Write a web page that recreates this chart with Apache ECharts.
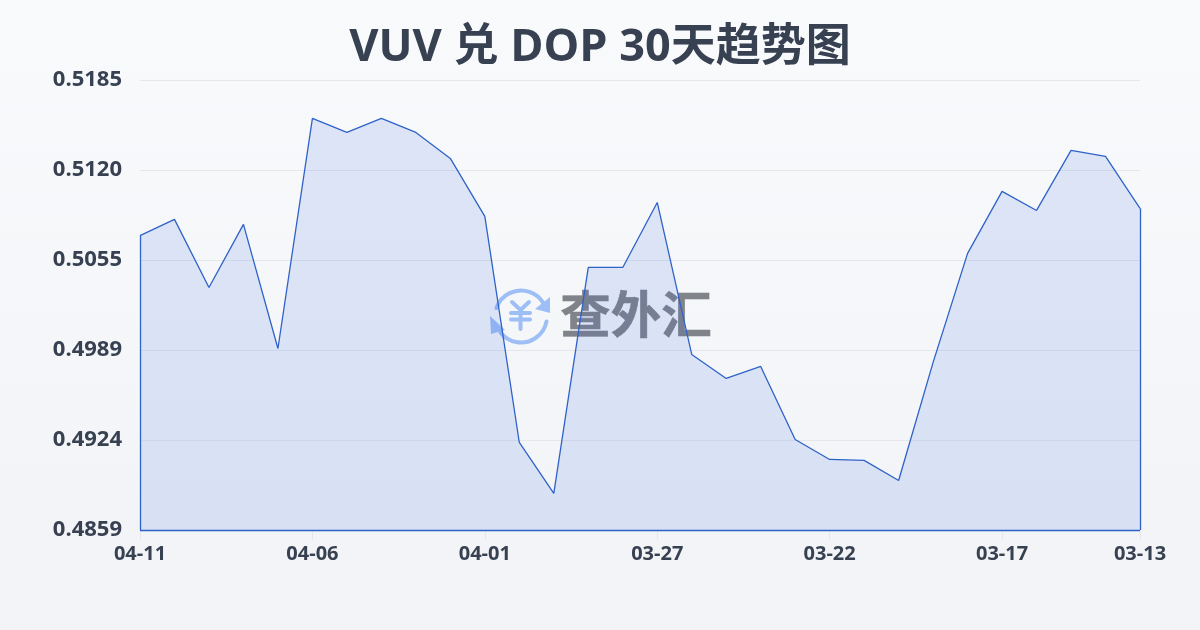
<!DOCTYPE html>
<html><head><meta charset="utf-8">
<style>html,body{margin:0;padding:0;width:1200px;height:630px;overflow:hidden}#c{width:1200px;height:630px}</style>
<script src="https://cdn.jsdelivr.net/npm/echarts@6/dist/echarts.min.js"></script>
</head><body><div id="c"></div>
<script>
const chartTitle = 'VUV 兑 DOP 30天趋势图';
const dates = ['04-11','04-10','04-09','04-08','04-07','04-06','04-05','04-04','04-03','04-02','04-01','03-31','03-30','03-29','03-28','03-27','03-26','03-25','03-24','03-23','03-22','03-21','03-20','03-19','03-18','03-17','03-16','03-15','03-14','03-13'];
const rates = [0.50722,0.50840,0.50347,0.50804,0.49905,0.51572,0.51470,0.51572,0.51470,0.51282,0.50862,0.49224,0.48856,0.50492,0.50492,0.50963,0.49862,0.49688,0.49775,0.49246,0.49101,0.49094,0.48949,0.49804,0.50594,0.51043,0.50905,0.51340,0.51296,0.50920];
const yMin = 0.4859, yMax = 0.5185;
const labelIdx = [0,5,10,15,20,25,29];
const line = '#2f62c8';
const ink = '#374151';
const mark = '#9dbff5';
const font = '"Open Sans","Noto Sans CJK SC",sans-serif';
const chart = echarts.init(document.getElementById('c'), null, {renderer:'canvas'});
const last = dates.length - 1;
const stroke = {stroke:mark,lineWidth:4,fill:null,lineCap:'round',lineJoin:'round'};
chart.setOption({
  animation:false,
  backgroundColor:new echarts.graphic.LinearGradient(0,0,0,1,[{offset:0,color:'#f8fafc'},{offset:1,color:'#f1f3f6'}]),
  title:{text:chartTitle,left:'center',top:21,textStyle:{fontFamily:font,fontSize:45,fontWeight:'bold',color:ink}},
  grid:{left:140,right:60,top:80,bottom:100,containLabel:false},
  graphic:[
    {type:'group',x:485,y:280,z:0,silent:true,children:[
      {type:'arc',shape:{cx:36,cy:36.5,r:26,startAngle:-2.81,endAngle:-0.54},style:stroke},
      {type:'arc',shape:{cx:36,cy:36.5,r:26,startAngle:0.19,endAngle:2.48},style:stroke},
      {type:'polygon',shape:{points:[[50,29],[65,17],[65,33]]},style:{fill:mark}},
      {type:'polygon',shape:{points:[[5,36],[20,50],[6,54]]},style:{fill:mark}},
      {type:'polyline',shape:{points:[[27,22],[35.5,30],[44,22]]},style:stroke},
      {type:'line',shape:{x1:26,y1:33,x2:45,y2:33},style:stroke},
      {type:'line',shape:{x1:26,y1:39.5,x2:45,y2:39.5},style:stroke},
      {type:'line',shape:{x1:35.5,y1:30,x2:35.5,y2:49},style:stroke}
    ]},
    {type:'text',left:560,top:288,z:0,silent:true,style:{text:'查外汇',fontFamily:'"Noto Sans CJK SC",sans-serif',fontSize:50.5,fontWeight:'bold',fill:'#808389',stroke:'#808389',lineWidth:0.6}}
  ],
  xAxis:{type:'category',boundaryGap:false,data:dates,
    axisLine:{show:false},
    axisTick:{show:true,length:10,interval:(i)=>labelIdx.includes(i),lineStyle:{color:'#e5e7eb'}},
    axisLabel:{interval:(i)=>labelIdx.includes(i),margin:14,fontFamily:font,fontSize:20,fontWeight:'bold',color:ink,hideOverlap:false,showMinLabel:true,showMaxLabel:true},
    splitLine:{show:false}},
  yAxis:{type:'value',min:yMin,max:yMax,interval:(yMax-yMin)/5,
    axisLine:{show:false},axisTick:{show:false},
    axisLabel:{margin:18,fontFamily:font,fontSize:22,fontWeight:'bold',color:ink,formatter:(v)=>v.toFixed(4)},
    splitLine:{lineStyle:{color:'#e5e7eb',width:1}}},
  series:[{type:'line',data:rates,symbol:'none',smooth:false,
    lineStyle:{color:line,width:1.3},
    areaStyle:{color:'rgba(50,100,225,0.19)',origin:'start'},
    markLine:{silent:true,symbol:'none',label:{show:false},lineStyle:{color:line,width:1.3,type:'solid'},animation:false,
      data:[
        [{coord:[0,yMin]},{coord:[0,rates[0]]}],
        [{coord:[last,yMin]},{coord:[last,rates[last]]}],
        [{coord:[0,yMin]},{coord:[last,yMin]}]
      ]}
  }]
});
</script></body></html>
